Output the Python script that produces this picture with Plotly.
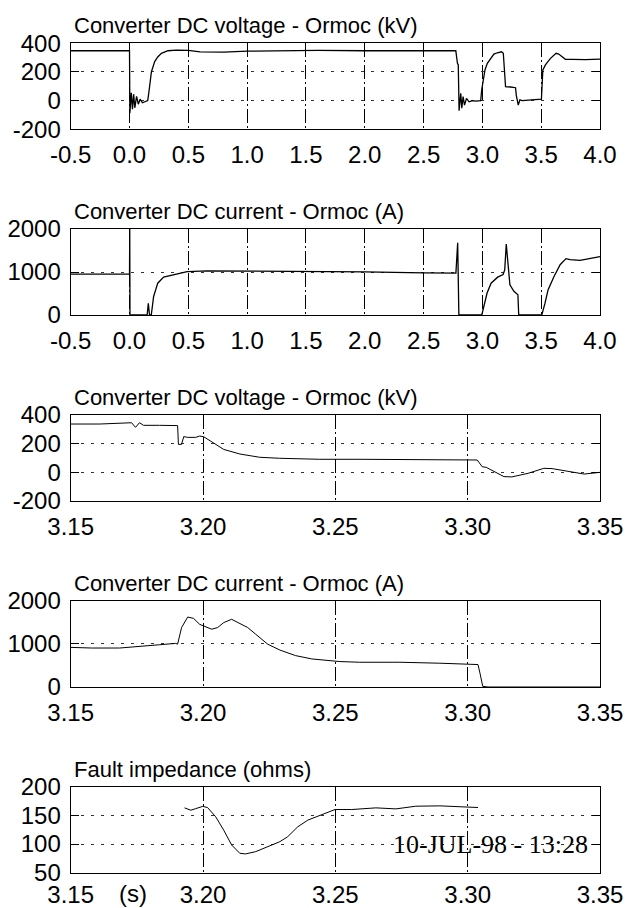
import plotly.graph_objects as go

# ---------------- data ----------------
# Panel 1: converter DC voltage (kV), long window
t1 = [-0.5, -0.25, 0.0, 0.003, 0.015, 0.025, 0.035, 0.045, 0.06, 0.075, 0.09, 0.11, 0.14, 0.155,
      0.165, 0.186, 0.214, 0.24, 0.271, 0.3, 0.327, 0.4, 0.5, 0.6, 0.8, 1.0, 1.3, 1.6, 2.0, 2.4, 2.774,
      2.788, 2.795, 2.802, 2.816, 2.825, 2.836, 2.848, 2.865, 2.887, 2.915, 2.943, 2.986,
      2.994, 3.022, 3.042, 3.07, 3.098, 3.127, 3.163, 3.178, 3.189, 3.197, 3.24, 3.282,
      3.288, 3.305, 3.319, 3.339, 3.42, 3.502, 3.514, 3.536, 3.579, 3.627, 3.649, 3.706,
      3.763, 3.875, 4.0]
v1 = [348, 350, 348, -88, 55, -60, 45, -50, 30, -25, 10, -15, -5, 0,
      60, 200, 272, 305, 330, 342, 348, 352, 350, 340, 338, 345, 350, 350, 348, 350, 348,
      260, 250, -70, 51, -53, 28, -31, 16, -8, 0, -3, 0,
      74, 214, 260, 295, 325, 334, 341, 330, 214, 97, 95, 90,
      39, -31, 5, 0, 5, 10, 214, 249, 295, 330, 325, 288,
      288, 286, 290]

# Panel 2: converter DC current (A), long window
t2 = [-0.5, -0.25, 0.0, 0.002, 0.004, 0.15, 0.16, 0.17, 0.185, 0.205, 0.24, 0.29, 0.39, 0.49,
      0.66, 1.0, 1.5, 2.0, 2.5, 2.775, 2.79, 2.80, 2.995, 3.013, 3.04, 3.074, 3.13, 3.176,
      3.19, 3.203, 3.217, 3.234, 3.268, 3.302, 3.309, 3.505, 3.532, 3.559, 3.61, 3.661,
      3.711, 3.745, 3.83, 3.92, 4.0]
i2 = [950, 955, 950, 2000, 0, 0, 270, 0, 0, 430, 740, 880, 940, 1010,
      1025, 1020, 1020, 1005, 980, 975, 1680, 0, 0, 195, 510, 740, 880, 940,
      1050, 1650, 1290, 700, 550, 470, 0, 0, 270, 590, 900, 1170,
      1310, 1290, 1270, 1320, 1360]

# Panel 3: converter DC voltage (kV), zoomed window
t3 = [3.15, 3.161, 3.173, 3.1745, 3.176, 3.1775, 3.1836, 3.1904, 3.1907, 3.1919,
      3.1927, 3.1942, 3.1972, 3.1987, 3.2002, 3.2033, 3.2078, 3.2139, 3.2214, 3.229,
      3.2441, 3.2593, 3.2744, 3.2895, 3.3036, 3.3055, 3.307, 3.3137, 3.3167, 3.3228,
      3.3288, 3.3319, 3.3379, 3.344, 3.35]
v3 = [337, 337, 346, 314, 346, 328, 328, 326, 195, 195,
      249, 244, 244, 253, 249, 214, 160, 128, 105, 98,
      91, 91, 91, 88, 86, 39, 35, -30, -32, -7,
      28, 26, 8, -12, 0]

# Panel 4: converter DC current (A), zoomed window
t4 = [3.15, 3.1579, 3.1685, 3.176, 3.1836, 3.1896, 3.1904, 3.1919, 3.1942, 3.1964,
      3.1987, 3.2002, 3.2033, 3.2055, 3.2078, 3.2108, 3.2139, 3.2169, 3.2199, 3.2244,
      3.229, 3.235, 3.2411, 3.2471, 3.2517, 3.2592, 3.2744, 3.2895, 3.2971, 3.3039,
      3.3047, 3.3057, 3.3077, 3.35]
i4 = [916, 901, 901, 947, 977, 1008, 992, 1374, 1618, 1588,
      1450, 1412, 1336, 1374, 1488, 1565, 1466, 1374, 1221, 992,
      855, 725, 649, 611, 588, 572, 572, 550, 534, 519,
      305, 15, 0, 0]

# Panel 5: fault impedance (ohms)
t5 = [3.193, 3.1954, 3.1972, 3.1999, 3.2017, 3.2048, 3.2078, 3.2108, 3.2139, 3.2161,
      3.2199, 3.2244, 3.229, 3.232, 3.2358, 3.2396, 3.2441, 3.2499, 3.2562, 3.2653,
      3.2729, 3.2804, 3.2895, 3.2986, 3.3039]
z5 = [163.4, 159.3, 162, 166, 164, 147.7, 124.4, 98.3, 83.7, 82.6,
      86.6, 95.3, 104, 112.8, 130.2, 141.9, 150.6, 160.5, 160.5, 163.4,
      161.6, 166.3, 166.9, 165.1, 164]

titles = ["Converter DC voltage - Ormoc (kV)",
          "Converter DC current - Ormoc (A)",
          "Converter DC voltage - Ormoc (kV)",
          "Converter DC current - Ormoc (A)",
          "Fault impedance (ohms)"]

xt_long = [-0.5, 0.0, 0.5, 1.0, 1.5, 2.0, 2.5, 3.0, 3.5, 4.0]
xt_long_txt = ["-0.5", "0.0", "0.5", "1.0", "1.5", "2.0", "2.5", "3.0", "3.5", "4.0"]
xt_short = [3.15, 3.20, 3.25, 3.30, 3.35]
xt_short_txt = ["3.15", "3.20", "3.25", "3.30", "3.35"]
yt_v = [-200, 0, 200, 400]
yt_v_txt = ["-200", "0", "200", "400"]
yt_i = [0, 1000, 2000]
yt_i_txt = ["0", "1000", "2000"]
yt_z = [50, 100, 150, 200]
yt_z_txt = ["50", "100", "150", "200"]
stamp = "10-JUL-98 - 13:28"
unit = "(s)"

# ---------------- layout ----------------
W, H = 627, 908
xl, xr = 70.7, 600.0
boxes = [(43.3, 129.3), (229.0, 315.0), (415.0, 501.0), (600.5, 687.0), (787.0, 872.5)]

series = [(t1, v1, xt_long, xt_long_txt, [-0.5, 4.0], yt_v, yt_v_txt, [-200, 400]),
          (t2, i2, xt_long, xt_long_txt, [-0.5, 4.0], yt_i, yt_i_txt, [0, 2000]),
          (t3, v3, xt_short, xt_short_txt, [3.15, 3.35], yt_v, yt_v_txt, [-200, 400]),
          (t4, i4, xt_short, xt_short_txt, [3.15, 3.35], yt_i, yt_i_txt, [0, 2000]),
          (t5, z5, xt_short, xt_short_txt, [3.15, 3.35], yt_z, yt_z_txt, [50, 200])]

SANS = "Liberation Sans, Arial, Helvetica, sans-serif"

fig = go.Figure()
annotations = []
layout = dict(width=W, height=H, margin=dict(l=0, r=0, t=0, b=0, autoexpand=False),
              template="none",
              paper_bgcolor="white", plot_bgcolor="white", showlegend=False)

for k, (tx, ty, xtv, xtt, xr_, ytv, ytt, yr_) in enumerate(series):
    n = "" if k == 0 else str(k + 1)
    top, bot = boxes[k]
    fig.add_trace(go.Scatter(x=tx, y=ty, mode="lines",
                             line=dict(color="black", width=1.3 if k < 2 else 1.0),
                             xaxis="x" + n, yaxis="y" + n, hoverinfo="skip"))
    layout["xaxis" + n] = dict(domain=[xl / W, xr / W], anchor="y" + n, range=xr_,
                               automargin=False,
                               tickmode="array", tickvals=xtv, ticktext=xtt,
                               showline=True, linecolor="black", linewidth=1.2, mirror=True,
                               ticks="", showgrid=True, gridcolor="black", gridwidth=1,
                               griddash="14px,3px,2px,3px", zeroline=False,
                               tickfont=dict(family=SANS, size=24, color="black"),
                               ticklabelstandoff=4 if k < 4 else 1)
    layout["yaxis" + n] = dict(domain=[1 - bot / H, 1 - top / H], anchor="x" + n, range=yr_,
                               automargin=False,
                               tickmode="array", tickvals=ytv, ticktext=ytt,
                               showline=True, linecolor="black", linewidth=1.2, mirror="ticks",
                               ticks="inside", ticklen=8, tickcolor="black", tickwidth=1,
                               showgrid=True, gridcolor="#333", gridwidth=1,
                               griddash="3px,7px", zeroline=False,
                               tickfont=dict(family=SANS, size=24, color="black"),
                               ticklabelstandoff=4)
    annotations.append(dict(text=titles[k], xref="paper", yref="paper",
                            x=72 / W, y=1 - top / H, xanchor="left", yanchor="bottom",
                            yshift=3, showarrow=False,
                            font=dict(family=SANS, size=22, color="black")))

annotations.append(dict(text=stamp, xref="paper", yref="paper", x=490 / W, y=1 - 844 / H,
                        xanchor="center", yanchor="middle", showarrow=False,
                        font=dict(family="Liberation Serif, Times New Roman, serif", size=26,
                                  color="black")))
annotations.append(dict(text=unit, xref="paper", yref="paper", x=133 / W, y=1 - 893 / H,
                        xanchor="center", yanchor="middle", showarrow=False,
                        font=dict(family=SANS, size=24, color="black")))

layout["annotations"] = annotations
fig.update_layout(**layout)
fig.write_html("out.html", config={"displayModeBar": False},
               post_script="document.body.style.margin='0';document.body.style.padding='0';")
